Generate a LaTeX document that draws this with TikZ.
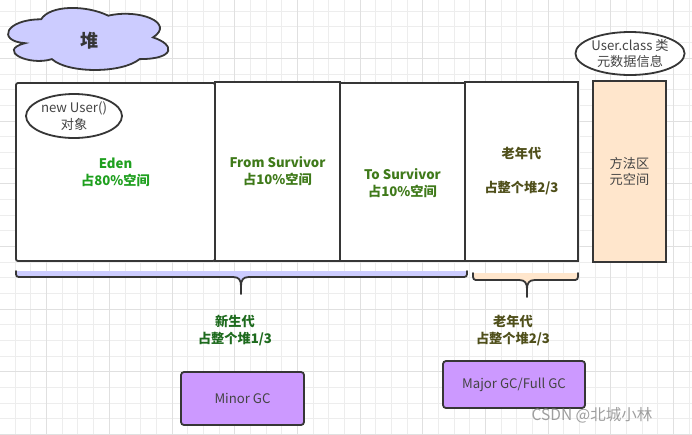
\documentclass[tikz,border=0pt]{standalone}
\usepackage{fontspec}
\setmainfont{Noto Sans CJK SC}
\usetikzlibrary{shapes.geometric}
\definecolor{linec}{HTML}{363636}
\definecolor{txtc}{HTML}{444444}
\definecolor{lav}{HTML}{CCCCFF}
\definecolor{peach}{HTML}{FFE6CC}
\definecolor{purp}{HTML}{CC99FF}
\definecolor{edeng}{HTML}{1FA01F}
\definecolor{survg}{HTML}{3F7A1A}
\definecolor{oldc}{HTML}{4F4F1A}
\definecolor{youngg}{HTML}{1E6B1E}
\definecolor{gridmin}{HTML}{EDEDED}
\definecolor{gridmaj}{HTML}{E0E0E0}
\begin{document}
\begin{tikzpicture}[x=1pt,y=-1pt,
  txt/.style={font=\fontsize{13.2}{16.5}\selectfont, align=center, text=txtc},
  btxt/.style={font=\fontsize{13.2}{17}\selectfont\bfseries, align=center},
  box/.style={draw=linec, line width=1.8pt, fill=white, inner sep=0pt},
  oval/.style={ellipse, draw=linec, line width=1.8pt, fill=white, inner sep=0pt, txt},
  gcbox/.style={draw=linec, line width=1.8pt, fill=purp, rounded corners=3pt, inner sep=0pt, txt},
  brace/.style={draw=linec, line width=1.8pt, line cap=round}
]
\useasboundingbox (0,0) rectangle (692,434);
\fill[white] (0,0) rectangle (692,434);
% grid
\foreach \k in {0,...,43} \draw[gridmin, line width=1pt] ({15.33+15.667*\k},0) -- ({15.33+15.667*\k},434);
\foreach \k in {0,...,27} \draw[gridmin, line width=1pt] (0,{11.33+15.667*\k}) -- (692,{11.33+15.667*\k});
\foreach \k in {2,6,...,42} \draw[gridmaj, line width=1pt] ({15.33+15.667*\k},0) -- ({15.33+15.667*\k},434);
\foreach \k in {3,7,...,27} \draw[gridmaj, line width=1pt] (0,{11.33+15.667*\k}) -- (692,{11.33+15.667*\k});

% cloud
\begin{scope}[shift={(-3.6,1.2)}, xscale=179, yscale=72.4]
\draw[fill=lav, draw=linec, line width=1.8pt]
 (0.25,0.25) .. controls (0.05,0.25) and (0,0.55) .. (0.16,0.58)
 .. controls (0,0.68) and (0.18,0.9) .. (0.31,0.8)
 .. controls (0.4,1) and (0.7,1) .. (0.8,0.8)
 .. controls (1,0.8) and (1,0.6) .. (0.875,0.5)
 .. controls (1,0.3) and (0.8,0.1) .. (0.625,0.2)
 .. controls (0.5,0.05) and (0.3,0.05) .. (0.25,0.25) -- cycle;
\end{scope}
\node[font=\fontsize{18}{20}\selectfont\bfseries, text=linec] (heap) at (89,41) {堆};

% main boxes
\node[box, rounded corners=2pt, minimum width=199, minimum height=178, btxt, text=edeng] (eden) at (115.5,172) {Eden\\占80\%空间};
\node[box, minimum width=125, minimum height=179, btxt, text=survg] (from) at (277.5,171.5) {From Survivor\\占10\%空间};
\node[box, minimum width=125, minimum height=178] (to) at (402.5,172) {};
\node[btxt, text=survg] (tolbl) at (402.5,183.5) {To Survivor\\占10\%空间};
\node[box, minimum width=113, minimum height=179, btxt, text=oldc] (old) at (521.5,171.5) {老年代\\[17pt]占整个堆2/3};
\node[box, fill=peach, minimum width=73, minimum height=181, txt] (meta) at (629.5,171.5) {方法区\\元空间};

% ellipses
\node[oval, minimum width=96, minimum height=44] (newuser) at (74,116) {new User()\\对象};
\node[oval, minimum width=104, minimum height=43] (userclass) at (630,53.5) {User.class 类\\元数据信息};

% young brace
\fill[lav] (16,271) .. controls (16,277) and (16,277) .. (22,277) -- (233,277)
  .. controls (239,277) and (241,280) .. (241,286)
  .. controls (241,280) and (243,277) .. (249,277) -- (461,277)
  .. controls (467,277) and (467,277) .. (467,271) -- cycle;
\draw[brace] (16,271) .. controls (16,277) and (16,277) .. (22,277) -- (233,277)
  .. controls (239,277) and (241,280) .. (241,286)
  .. controls (241,280) and (243,277) .. (249,277) -- (461,277)
  .. controls (467,277) and (467,277) .. (467,271);
\draw[brace] (241,285) -- (241,294);

% old brace
\fill[peach] (473,273) .. controls (473,280) and (473,280) .. (479,280) -- (519,280)
  .. controls (525,280) and (527,283) .. (527,289)
  .. controls (527,283) and (529,280) .. (535,280) -- (572,280)
  .. controls (578,280) and (578,280) .. (578,273) -- cycle;
\draw[brace] (473,273) .. controls (473,280) and (473,280) .. (479,280) -- (519,280)
  .. controls (525,280) and (527,283) .. (527,289)
  .. controls (527,283) and (529,280) .. (535,280) -- (572,280)
  .. controls (578,280) and (578,280) .. (578,273);
\draw[brace] (527,288) -- (527,297);

% bottom labels
\node[btxt, text=youngg] (younglbl) at (235,330.5) {新生代\\占整个堆1/3};
\node[btxt, text=oldc] (oldlbl) at (513,331) {老年代\\占整个堆2/3};

% GC boxes
\node[gcbox, minimum width=123, minimum height=53] (minor) at (242.5,398.5) {Minor GC};
\node[gcbox, minimum width=142, minimum height=47] (major) at (514,384.5) {Major GC/Full GC};

% watermark
\node[font=\fontsize{15.5}{17}\selectfont, text=black!38] (wm) at (592,415) {CSDN @北城小林};
\end{tikzpicture}
\end{document}
